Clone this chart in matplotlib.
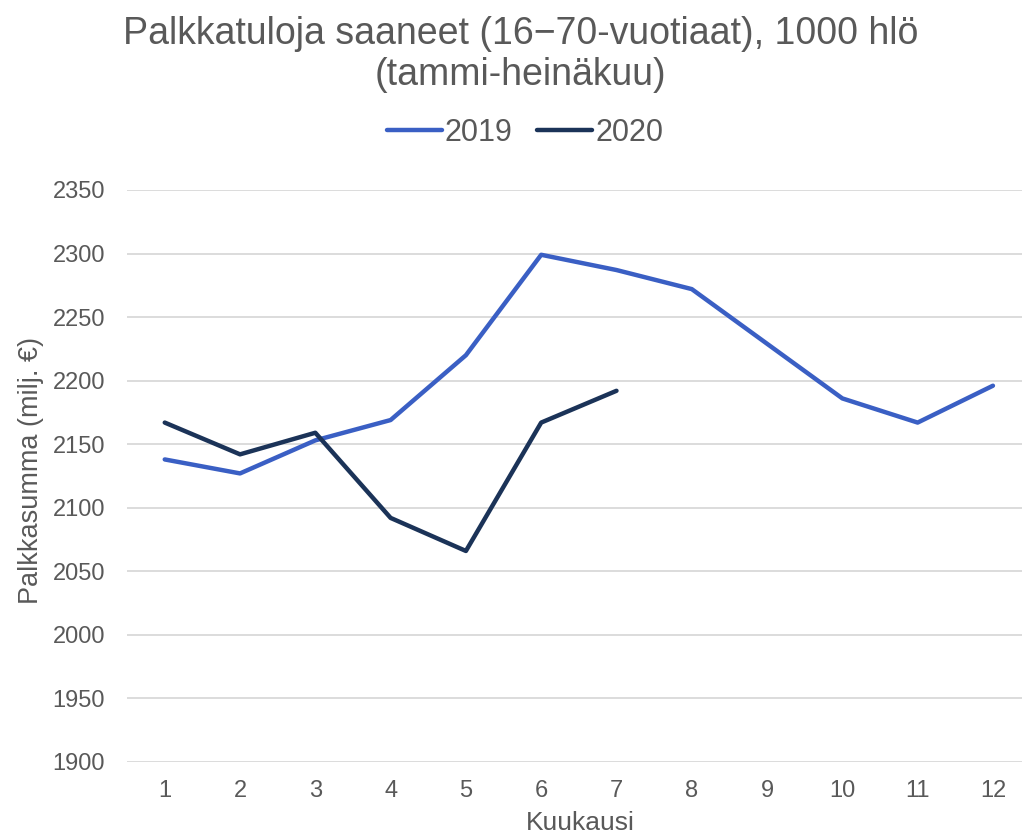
import matplotlib
matplotlib.use("Agg")
import matplotlib.pyplot as plt

# kuukaudet ja palkkasummat (milj. €)
kuukaudet = [1, 2, 3, 4, 5, 6, 7, 8, 9, 10, 11, 12]
arvot_2019 = [2138, 2127, 2153, 2169, 2220, 2299, 2287, 2272, 2229, 2186, 2167, 2196]
kuukaudet_2020 = [1, 2, 3, 4, 5, 6, 7]
arvot_2020 = [2167, 2142, 2159, 2092, 2066, 2167, 2192]
y_ticks = [1900, 1950, 2000, 2050, 2100, 2150, 2200, 2250, 2300, 2350]

plt.rcParams['font.family'] = ['Liberation Sans', 'DejaVu Sans']
harmaa = '#595959'

fig = plt.figure(figsize=(10.25, 8.39), dpi=100)
ax = fig.add_axes([0.124, 0.0918, 0.873, 0.6818])

ax.plot(kuukaudet, arvot_2019, color='#3A5FC4', lw=3.2, solid_capstyle='round',
        solid_joinstyle='round', label='2019')
ax.plot(kuukaudet_2020, arvot_2020, color='#1B3358', lw=3.2, solid_capstyle='round',
        solid_joinstyle='round', label='2020')

ax.set_xlim(0.5, 12.385)
ax.set_ylim(1900, 2350)
ax.set_xticks(kuukaudet)
ax.set_yticks(y_ticks)
ax.grid(axis='y', color='#D9D9D9', lw=1.3)
ax.set_axisbelow(True)
for s in ax.spines.values():
    s.set_visible(False)
ax.tick_params(length=0, labelsize=17, labelcolor=harmaa)
ax.tick_params(axis='x', pad=13)
ax.tick_params(axis='y', pad=16)

ax.set_xlabel('Kuukausi', fontsize=19, color=harmaa)
ax.set_ylabel('Palkkasumma (milj. €)', fontsize=19.5, color=harmaa)
ax.xaxis.label.set_va('baseline')
ax.yaxis.label.set_va('center')
ax.xaxis.set_label_coords(0.507, -0.1195)
ax.yaxis.set_label_coords(-0.107, 0.51)

fig.text(0.508, 0.935, 'Palkkatuloja saaneet (16\u221270-vuotiaat), 1000 hlö\n(tammi-heinäkuu)',
         ha='center', va='center', fontsize=27, color=harmaa, linespacing=1.2)

fig.legend(loc='center', bbox_to_anchor=(0.512, 0.8415), ncol=2, frameon=False,
           fontsize=22, labelcolor=harmaa, handlelength=1.8, handletextpad=0.1,
           columnspacing=0.8)

plt.savefig('out.png', dpi=100)
